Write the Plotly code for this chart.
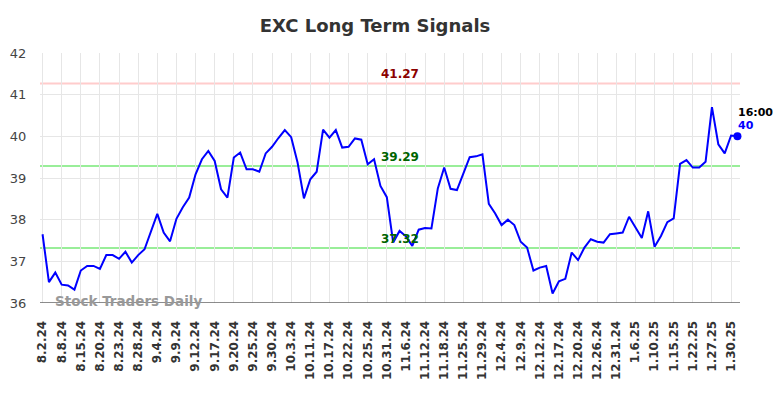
import plotly.graph_objects as go

tick_labels = ["8.2.24","8.8.24","8.15.24","8.20.24","8.23.24","8.28.24","9.4.24","9.9.24",
               "9.12.24","9.17.24","9.20.24","9.25.24","9.30.24","10.3.24","10.11.24","10.17.24",
               "10.22.24","10.25.24","10.31.24","11.6.24","11.12.24","11.18.24","11.25.24","11.29.24",
               "12.4.24","12.9.24","12.12.24","12.17.24","12.20.24","12.26.24","12.31.24","1.6.25",
               "1.10.25","1.15.25","1.22.25","1.27.25","1.30.25"]

prices = [37.65,36.50,36.73,36.44,36.42,36.32,36.78,36.89,36.89,36.82,
          37.15,37.15,37.06,37.23,36.97,37.15,37.29,37.73,38.14,37.69,
          37.48,38.02,38.30,38.53,39.09,39.45,39.65,39.41,38.73,38.53,
          39.49,39.61,39.21,39.21,39.15,39.59,39.75,39.96,40.15,39.98,
          39.37,38.51,38.97,39.15,40.16,39.97,40.15,39.73,39.75,39.95,
          39.92,39.33,39.45,38.81,38.54,37.45,37.73,37.60,37.37,37.76,
          37.80,37.79,38.75,39.25,38.74,38.71,39.13,39.50,39.52,39.57,
          38.38,38.15,37.87,38.00,37.87,37.47,37.33,36.78,36.85,36.89,
          36.23,36.52,36.58,37.21,37.03,37.33,37.53,37.47,37.45,37.65,
          37.67,37.69,38.07,37.81,37.56,38.20,37.35,37.61,37.94,38.03,
          39.34,39.43,39.25,39.25,39.39,40.70,39.81,39.59,40.02,40.00]

levels = [41.27, 39.29, 37.32]
level_line_colors = ["#ffcccc", "#99ee99", "#99ee99"]
level_text_colors = ["#8b0000", "#006400", "#006400"]
last_time = "16:00"

x = list(range(len(prices)))
tick_pos = list(range(0, 3 * len(tick_labels), 3))

fig = go.Figure()
fig.add_trace(go.Scatter(x=x, y=prices, mode="lines",
                         line=dict(color="#0000ff", width=2), hoverinfo="skip"))
fig.add_trace(go.Scatter(x=[x[-1]], y=[prices[-1]], mode="markers", cliponaxis=False,
                         marker=dict(color="#0000ff", size=8), hoverinfo="skip"))

for lv, lc, tc in zip(levels, level_line_colors, level_text_colors):
    fig.add_hline(y=lv, line=dict(color=lc, width=2), layer="below")
    fig.add_annotation(x=56, y=lv, text=f"<b>{lv:.2f}</b>", showarrow=False,
                       yshift=9, font=dict(color=tc, size=12, family="DejaVu Sans"))

fig.add_annotation(x=x[-1], y=prices[-1], text=f"<b>{last_time}</b>", showarrow=False,
                   xanchor="left", xshift=-1, yshift=24,
                   font=dict(color="#000000", size=11, family="DejaVu Sans"))
fig.add_annotation(x=x[-1], y=prices[-1], text=f"<b>{prices[-1]:g}</b>", showarrow=False,
                   xanchor="left", xshift=-1, yshift=11,
                   font=dict(color="#0000ff", size=11, family="DejaVu Sans"))

fig.add_annotation(xref="paper", yref="paper", x=0.0186, y=0.0, text="<b>Stock Traders Daily</b>",
                   showarrow=False, xanchor="left", yanchor="bottom", yshift=-8,
                   font=dict(color="#999999", size=13.5, family="DejaVu Sans"))

# page body has an 8px margin, so the figure is offset by 8px in the viewport
fig.update_layout(
    width=776, height=390,
    margin=dict(l=32, r=44, t=45, b=95),
    paper_bgcolor="white", plot_bgcolor="white",
    showlegend=False,
    title=dict(text="<b>EXC Long Term Signals</b>", x=367/776, xanchor="center",
               y=1 - 11/390, yanchor="top",
               font=dict(size=18, color="#333333", family="DejaVu Sans")),
    xaxis=dict(range=[-0.4, 109.4], tickmode="array", tickvals=tick_pos, ticktext=[f"<b>{t}</b>" for t in tick_labels],
               tickangle=-90, showgrid=True, gridcolor="#e6e6e6", gridwidth=1,
               zeroline=False, showline=False, automargin=False,
               ticks="outside", ticklen=12, tickcolor="rgba(0,0,0,0)",
               tickfont=dict(size=12, color="#333333", family="DejaVu Sans")),
    yaxis=dict(range=[36, 42], dtick=1, showgrid=True, gridcolor="#e6e6e6", gridwidth=1,
               zeroline=False, showline=False, automargin=False,
               ticks="outside", ticklen=10, tickcolor="rgba(0,0,0,0)",
               tickfont=dict(size=13, color="#444444", family="DejaVu Sans")),
)
fig.add_hline(y=36, line=dict(color="#666666", width=1.5))

fig.write_html("out.html")
